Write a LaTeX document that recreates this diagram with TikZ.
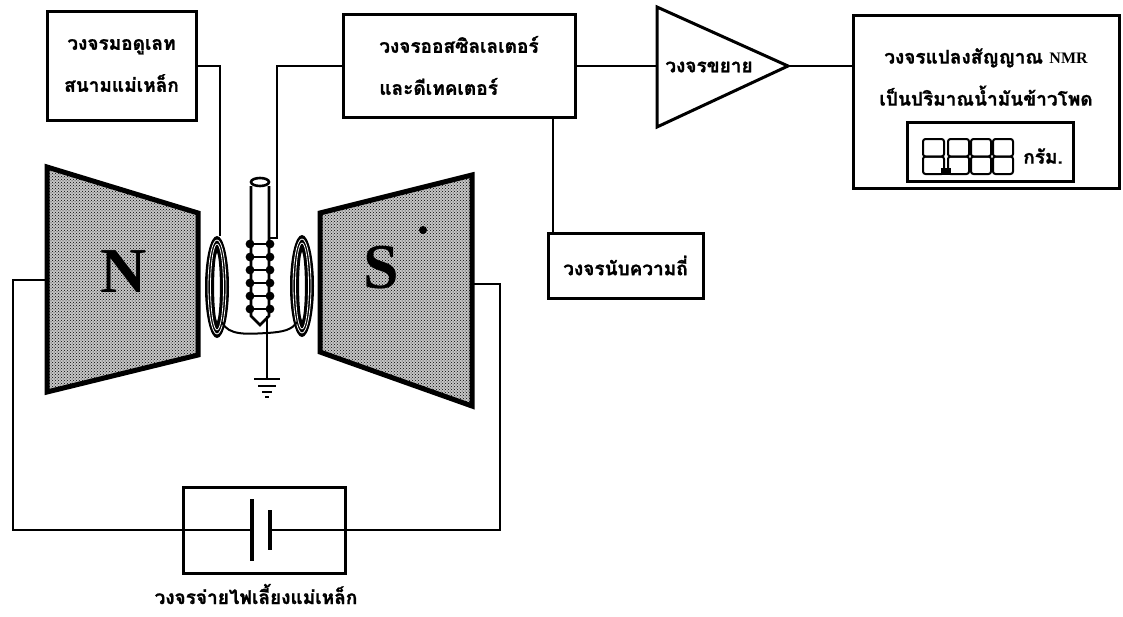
\documentclass[tikz,border=0pt]{standalone}
\usepackage{fontspec}
\newfontfamily\thai[Script=Thai, BoldFeatures={FakeBold=1.2}]{Loma}
\newfontfamily\serifb{Liberation Serif}
\usetikzlibrary{patterns}
\begin{document}
\begin{tikzpicture}[x=1pt,y=-1pt,
  box/.style={draw, line width=3pt, inner sep=0pt, align=center,
    font=\thai\bfseries\fontsize{19}{42}\selectfont},
  label/.style={inner sep=0pt, font=\thai\bfseries\fontsize{19}{42}\selectfont},
  wire/.style={line width=2pt},
  magnet/.style={line width=5pt, line join=miter},
  pole/.style={inner sep=0pt, font=\serifb\bfseries\fontsize{64}{64}\selectfont},
  coilring/.pic={
    \fill[black] (0,0) ellipse [x radius=12, y radius=51];
    \draw[white, line width=0.8pt] (0,0) ellipse [x radius=9, y radius=47];
    \draw[white, line width=0.8pt] (0,0) ellipse [x radius=6.5, y radius=43];
    \filldraw[fill=white, draw=black, line width=1.2pt] (0,0) ellipse [x radius=3.5, y radius=35];
  },
  digit/.style={draw, line width=2pt, rounded corners=2.5pt}
]
\useasboundingbox (0,0) rectangle (1123,616);

% ---- circuit blocks ----
\node[box, minimum width=149, minimum height=109] (mod) at (121.5,65.5)
  {วงจรมอดูเลท\\สนามแม่เหล็ก};
\node[box, minimum width=232, minimum height=103, align=left] (osc) at (459,65.5)
  {วงจรออสซิลเลเตอร์\\และดีเทคเตอร์};
\node[box, minimum width=155, minimum height=65] (cnt) at (625.5,265.5)
  {วงจรนับความถี่};
\node[draw, line width=3pt, minimum width=266, minimum height=173, inner sep=0pt] (nmr) at (986,101.5) {};
\node[label, align=center] (nmrtxt) at (986,77)
  {วงจรแปลงสัญญาณ {\serifb\bfseries\fontsize{16}{16}\selectfont NMR}\\เป็นปริมาณน้ำมันข้าวโพด};

% amplifier triangle
\coordinate (ampT) at (657,7);
\coordinate (ampB) at (657,127);
\coordinate (ampout) at (788,66);
\draw[line width=3pt, line join=miter] (ampT) -- (ampout) -- (ampB) -- cycle;
\node[label] (amptxt) at (709,67) {วงจรขยาย};

% digital read-out
\node[draw, line width=3pt, minimum width=166, minimum height=59, inner sep=0pt] (disp) at (990,151.5) {};
\foreach \dx/\w in {923/21, 948/21, 971/20, 993/20}{
  \draw[digit] (\dx,139) rectangle ++(\w,17.5);
  \draw[digit] (\dx,156.5) rectangle ++(\w,17.5);
}
\fill (941,168) rectangle (951,175);
\node[label] (unit) at (1043,156) {กรัม.};

% ---- magnets ----
\coordinate (nTL) at (47,167);
\coordinate (nTR) at (198,213);
\coordinate (nBR) at (198,355);
\coordinate (nBL) at (47,392);
\coordinate (sTL) at (320,213);
\coordinate (sTR) at (472,175);
\coordinate (sBR) at (472,406);
\coordinate (sBL) at (320,352);
\fill[gray!45] (nTL) -- (nTR) -- (nBR) -- (nBL) -- cycle;
\fill[pattern=crosshatch dots] (nTL) -- (nTR) -- (nBR) -- (nBL) -- cycle;
\draw[magnet] (nTL) -- (nTR) -- (nBR) -- (nBL) -- cycle;
\fill[gray!45] (sTL) -- (sTR) -- (sBR) -- (sBL) -- cycle;
\fill[pattern=crosshatch dots] (sTL) -- (sTR) -- (sBR) -- (sBL) -- cycle;
\draw[magnet] (sTL) -- (sTR) -- (sBR) -- (sBL) -- cycle;
\node[pole] (N) at (124,272) {N};
\node[pole] (S) at (381,268) {S};
\fill (423,230) circle (4);

% ---- coils and sample tube ----
\pic at (217,287) {coilring};
\pic at (302,286) {coilring};
\coordinate (lcoiltop) at (220,236);
\coordinate (lcoilbot) at (222,322);
\coordinate (rcoilbot) at (297,322);

\draw[line width=2.6pt] (251,186) -- (251,316) -- (260,325) -- (269,316) -- (269,186);
\draw[line width=2.6pt] (260,182) ellipse [x radius=9, y radius=4];
\foreach \yy in {244,257,270,283,296,309}{
  \fill (250,\yy) circle (4.4);
  \fill (270,\yy) circle (4.4);
  \draw[line width=2pt] (250,\yy) -- (270,\yy);
}
\coordinate (probeR) at (270,238);
\coordinate (pw) at (277,238);
\coordinate (coilbot) at (267,316);
\coordinate (j) at (267,333);
\coordinate (gnd) at (267,379);

% ---- battery ----
\node[draw, line width=3pt, minimum width=162, minimum height=86, inner sep=0pt] (bat) at (264,530) {};
\coordinate (lp) at (252,530);
\coordinate (sp) at (270,530);
\draw[line width=3.4pt] (252,499) -- (252,561);
\draw[line width=4pt] (270,510) -- (270,550);
\node[label] (battxt) at (256,594) {วงจรจ่ายไฟเลี้ยงแม่เหล็ก};
\coordinate (nw) at (47,280);
\coordinate (cl) at (13,530);
\coordinate (sw) at (472,284);
\coordinate (cr) at (500,530);

% ---- wiring ----
\draw[wire] (mod.east) -| (lcoiltop);
\draw[wire] (osc.west) -| (pw) -- (probeR);
\draw[wire] (osc.east) -- (osc.east -| ampT);
\draw[wire] (ampout) -- (ampout -| nmr.west);
\draw[wire] (553,0 |- osc.south) -- (553,0 |- cnt.north);
\draw[wire] (nw) -| (cl) -- (lp);
\draw[wire] (sw) -| (cr) -- (sp);
\draw[wire] (coilbot) -- (j) -- (gnd);
\draw[wire] (lcoilbot) .. controls (228,336) and (248,334) .. (j)
                       .. controls (283,332) and (292,330) .. (rcoilbot);
\draw[line width=2.4pt] (254,379) -- (280,379);
\draw[line width=2.4pt] (258,386) -- (276,386);
\draw[line width=2.4pt] (262,392) -- (272,392);
\draw[line width=2.4pt] (265,397) -- (269,397);
\end{tikzpicture}
\end{document}
